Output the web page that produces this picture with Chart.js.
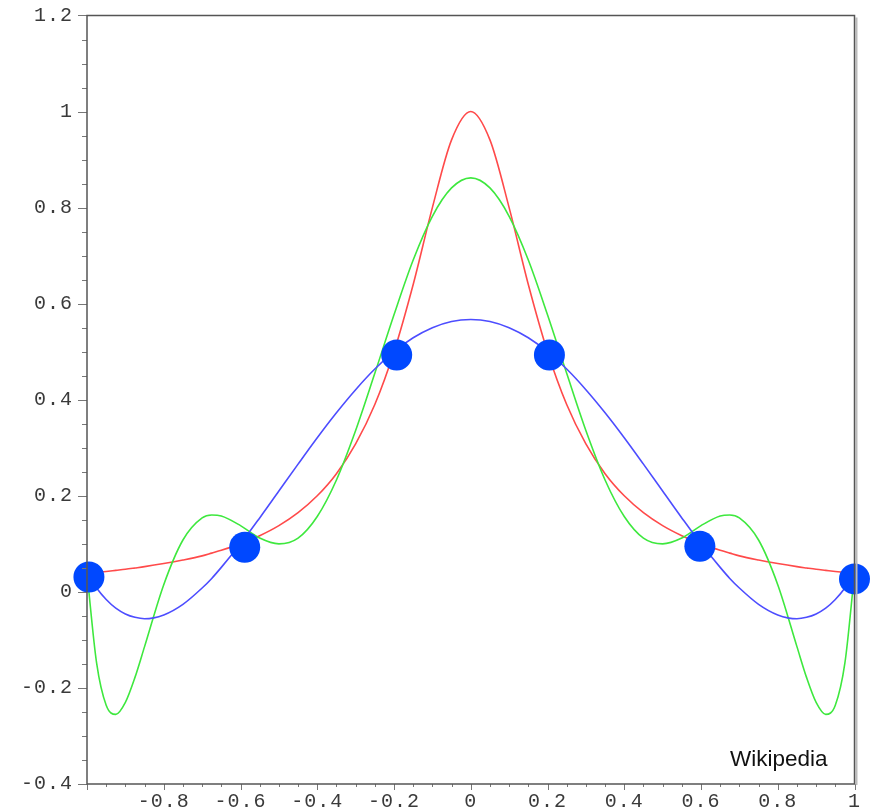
<!DOCTYPE html>
<html>

<head>
    <title>Runge</title>
    <meta name="viewport" content="width=device-width, initial-scale=1.0">
    <script src="https://cdn.jsdelivr.net/npm/chart.js"></script>
    <style>
        body { margin: 0; background: #fff; }
        .chart-container { position: relative; width: 870px; height: 809px; }
        .mark {
            position: absolute; left: 730px; top: 746px;
            font-family: "Liberation Sans", Arial, sans-serif; font-size: 22.5px; color: #111;
        }
    </style>
</head>

<body>
    <div class="chart-container">
        <canvas id="rungeChart"></canvas>
        <div class="mark">Wikipedia</div>
    </div>
</body>
<script>
    // sample positions along x
    var xs = [-1, -0.975, -0.95, -0.925, -0.9, -0.875, -0.85, -0.8, -0.75, -0.7, -0.675, -0.65, -0.6, -0.55, -0.5, -0.45, -0.4, -0.35, -0.3, -0.25, -0.2, -0.15, -0.1, -0.05,
        0, 0.05, 0.1, 0.15, 0.2, 0.25, 0.3, 0.35, 0.4, 0.45, 0.5, 0.55, 0.6, 0.65, 0.675, 0.7, 0.75, 0.8, 0.85, 0.875, 0.9, 0.925, 0.95, 0.975, 1];

    // red curve (the function itself)
    var redY = [0.0385, 0.0404, 0.0424, 0.0447, 0.047, 0.0497, 0.0525, 0.059, 0.0664, 0.075, 0.0807, 0.0865, 0.1, 0.117, 0.138, 0.165, 0.2, 0.246, 0.308, 0.39, 0.5, 0.64, 0.8, 0.941,
        1, 0.941, 0.8, 0.64, 0.5, 0.39, 0.308, 0.246, 0.2, 0.165, 0.138, 0.117, 0.1, 0.0865, 0.0807, 0.075, 0.0664, 0.059, 0.0525, 0.0497, 0.047, 0.0447, 0.0424, 0.0404, 0.0385];

    // blue curve (5th degree)
    var blueY = [0.0385, 0.008, -0.016, -0.034, -0.046, -0.053, -0.056, -0.048, -0.026, 0.008, 0.028, 0.051, 0.1, 0.154, 0.21, 0.266, 0.321, 0.373, 0.421, 0.464, 0.5, 0.529, 0.55, 0.563,
        0.567, 0.563, 0.55, 0.529, 0.5, 0.464, 0.421, 0.373, 0.321, 0.266, 0.21, 0.154, 0.1, 0.051, 0.028, 0.008, -0.026, -0.048, -0.056, -0.053, -0.046, -0.034, -0.016, 0.008, 0.0385];

    // green curve (9th degree)
    var greenY = [0.0385, -0.148, -0.236, -0.255, -0.23, -0.178, -0.114, 0.015, 0.108, 0.154, 0.16, 0.158, 0.138, 0.112, 0.1, 0.112, 0.157, 0.233, 0.336, 0.455, 0.577, 0.691, 0.782, 0.841,
        0.862, 0.841, 0.782, 0.691, 0.577, 0.455, 0.336, 0.233, 0.157, 0.112, 0.1, 0.112, 0.138, 0.158, 0.16, 0.154, 0.108, 0.015, -0.114, -0.178, -0.23, -0.255, -0.236, -0.148, 0.0385];

    // the big dots, where they sit in the picture
    var nodeX = [-0.995, -0.589, -0.193, 0.205, 0.597, 1];
    var nodeY = [0.031, 0.093, 0.493, 0.493, 0.095, 0.027];

    var yTicks = [-0.4, -0.2, 0, 0.2, 0.4, 0.6, 0.8, 1, 1.2];

    function pairs(x, y) {
        return x.map(function (v, i) { return { x: v, y: y[i] }; });
    }

    function fmt(v) {
        var r = Math.round(v * 10) / 10;
        return r === 0 ? "0" : String(r);
    }

    // wider letters for the tick labels
    var spacingPlugin = {
        id: "spacing",
        beforeLayout: function (chart) { chart.ctx.letterSpacing = "1px"; },
        beforeDraw: function (chart) { chart.ctx.letterSpacing = "1px"; }
    };

    // frame + minor ticks
    var framePlugin = {
        id: "frame",
        afterDraw: function (chart) {
            var ctx = chart.ctx, a = chart.chartArea;
            var sx = chart.scales.x, sy = chart.scales.y;
            ctx.save();
            ctx.strokeStyle = "#777";
            ctx.lineWidth = 1;
            for (var v = -1; v <= 1.0001; v += 0.05) {
                var px = Math.round(sx.getPixelForValue(v)) + 0.5;
                var major = Math.abs(v * 5 - Math.round(v * 5)) < 1e-6;
                ctx.beginPath();
                ctx.moveTo(px, a.bottom);
                ctx.lineTo(px, a.bottom + (major ? 6 : 3));
                ctx.stroke();
            }
            for (var w = -0.4; w <= 1.2001; w += 0.05) {
                var py = Math.round(sy.getPixelForValue(w)) + 0.5;
                var maj = Math.abs(w * 5 - Math.round(w * 5)) < 1e-6;
                ctx.beginPath();
                ctx.moveTo(a.left, py);
                ctx.lineTo(a.left - (maj ? 9 : 5), py);
                ctx.stroke();
            }
            ctx.strokeStyle = "#bbb";
            ctx.lineWidth = 2;
            ctx.beginPath();
            ctx.moveTo(a.right + 2, a.top + 2);
            ctx.lineTo(a.right + 2, a.bottom + 1);
            ctx.stroke();
            ctx.strokeStyle = "#555";
            ctx.lineWidth = 1.5;
            ctx.strokeRect(a.left, a.top, a.right - a.left, a.bottom - a.top);
            ctx.restore();
        }
    };

    document.addEventListener("DOMContentLoaded", function () {
        var ctx = document.getElementById("rungeChart").getContext("2d");
        var lineStyle = { showLine: true, pointRadius: 0, borderWidth: 1.6, cubicInterpolationMode: "monotone", fill: false };

        new Chart(ctx, {
            type: "scatter",
            data: {
                datasets: [
                    { data: pairs(nodeX, nodeY), pointRadius: 15.5, pointHoverRadius: 15.5, backgroundColor: "#0048ff", borderWidth: 0, clip: false },
                    Object.assign({ data: pairs(xs, blueY), borderColor: "#4d4dff" }, lineStyle),
                    Object.assign({ data: pairs(xs, greenY), borderColor: "#3ee83e" }, lineStyle),
                    Object.assign({ data: pairs(xs, redY), borderColor: "#ff4a4a" }, lineStyle)
                ]
            },
            options: {
                responsive: true,
                maintainAspectRatio: false,
                animation: false,
                layout: { padding: { top: 15, right: 15, left: 0, bottom: 0 } },
                plugins: { legend: { display: false }, tooltip: { enabled: false } },
                scales: {
                    x: {
                        type: "linear",
                        min: -1,
                        max: 1,
                        border: { display: false },
                        grid: { drawOnChartArea: false, drawTicks: false },
                        ticks: {
                            stepSize: 0.2,
                            padding: 6,
                            maxRotation: 0,
                            color: "#3a3a3a",
                            font: { family: "Liberation Mono", size: 20 },
                            callback: function (v) { return v <= -0.99 ? "" : fmt(v); }
                        },
                        afterFit: function (s) { s.height = 25; }
                    },
                    y: {
                        type: "linear",
                        min: -0.4,
                        max: 1.2,
                        border: { display: false },
                        grid: { drawOnChartArea: false, drawTicks: true, tickLength: 14, tickColor: "rgba(0,0,0,0)" },
                        afterBuildTicks: function (s) { s.ticks = yTicks.map(function (v) { return { value: v }; }); },
                        ticks: {
                            padding: 0,
                            color: "#3a3a3a",
                            font: { family: "Liberation Mono", size: 20 },
                            callback: function (v) { return fmt(v); }
                        },
                        afterFit: function (s) { s.width = 87; }
                    }
                }
            },
            plugins: [spacingPlugin, framePlugin]
        });
    });
</script>

</html>
